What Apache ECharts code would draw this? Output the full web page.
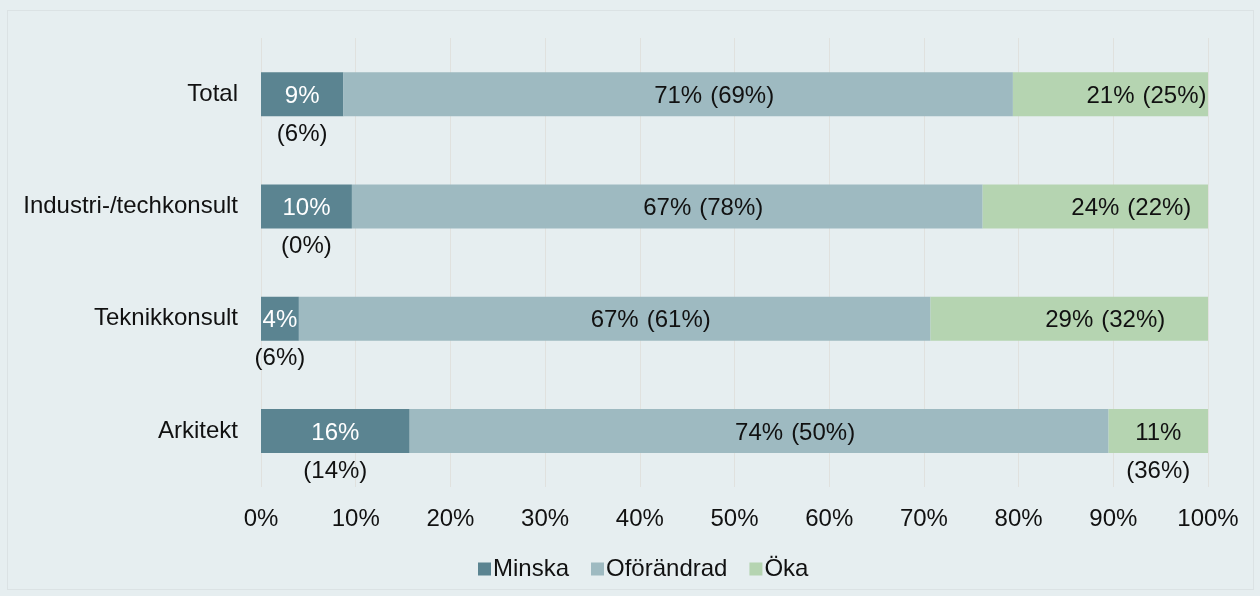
<!DOCTYPE html>
<html>
<head>
<meta charset="utf-8">
<script src="https://cdn.jsdelivr.net/npm/echarts@6/dist/echarts.min.js"></script>
<style>
  html, body { margin: 0; padding: 0; background: #e6eef0; }
  #frame { position: absolute; left: 7px; top: 10px; width: 1245px; height: 578px; border: 1px solid #dbe2e4; }
  #chart { position: absolute; left: 0; top: 0; width: 1260px; height: 596px; }
</style>
</head>
<body>
<div id="frame"></div>
<div id="chart"></div>
<script>
// kategorier (uppifrån och ned)
const categories = ['Total', 'Industri-/techkonsult', 'Teknikkonsult', 'Arkitekt']
const seriesNames = ['Minska', 'Oförändrad', 'Öka']

// andelar i år (%)
const minska = [8.7, 9.6, 4.0, 15.7]
const oforandrad = [70.7, 66.6, 66.7, 73.8]
const oka = [20.6, 23.8, 29.3, 10.5]

// förra årets siffror, visas inom parentes
const prevMinska = [6, 0, 6, 14]
const prevOforandrad = [69, 78, 61, 50]
const prevOka = [25, 22, 32, 36]

const xTicks = [0, 10, 20, 30, 40, 50, 60, 70, 80, 90, 100]

// var parentesen hamnar: under stapeln eller till höger om etiketten
const prevPlace = [
  ['below', 'below', 'below', 'below'],
  ['right', 'right', 'right', 'right'],
  ['right', 'right', 'right', 'below']
]

const colors = ['#5b8491', '#9ebac1', '#b5d4b1']
const values = [minska, oforandrad, oka]
const prevs = [prevMinska, prevOforandrad, prevOka]
const FONT = "'Liberation Sans', Arial, sans-serif"
const FS = 24

const chart = echarts.init(document.getElementById('chart'))

function makeSeries(si) {
  const data = values[si].map((v, i) => {
    const place = prevPlace[si][i]
    return {
      value: v,
      label: { offset: place === 'below' ? [0, 28] : [36, 2] }
    }
  })
  const mainColor = si === 0 ? '#ffffff' : '#111111'
  return {
    name: seriesNames[si],
    type: 'bar',
    stack: 'total',
    barWidth: 44,
    itemStyle: { color: colors[si] },
    label: {
      show: true,
      position: 'inside',
      fontFamily: FONT,
      formatter: (p) => {
        const main = Math.round(p.value) + '%'
        const prev = '(' + prevs[si][p.dataIndex] + '%)'
        if (prevPlace[si][p.dataIndex] === 'below') {
          return '{v|' + main + '}\n{p|' + prev + '}'
        }
        return '{v|' + main + '}{q|' + prev + '}'
      },
      rich: {
        v: { fontSize: FS, fontFamily: FONT, color: mainColor, lineHeight: 24 },
        p: { fontSize: FS, fontFamily: FONT, color: '#111111', lineHeight: 52 },
        q: { fontSize: FS, fontFamily: FONT, color: '#111111', lineHeight: 24, padding: [0, 0, 0, 8] }
      }
    },
    data: data
  }
}

const option = {
  animation: false,
  backgroundColor: 'transparent',
  grid: { left: 261, right: 52, top: 38, bottom: 109 },
  legend: {
    data: seriesNames,
    left: 473,
    top: 552,
    icon: 'rect',
    itemWidth: 13,
    itemHeight: 13,
    itemGap: 22,
    textStyle: { fontSize: FS, fontFamily: FONT, color: '#111111', padding: [0, 0, 0, -3] }
  },
  xAxis: {
    type: 'value',
    min: xTicks[0],
    max: xTicks[xTicks.length - 1],
    interval: xTicks[1] - xTicks[0],
    axisLine: { show: false },
    axisTick: { show: false },
    splitLine: { show: true, lineStyle: { color: '#e0e1de', width: 1 } },
    axisLabel: { formatter: '{value}%', fontSize: FS, fontFamily: FONT, color: '#111111', margin: 20 }
  },
  yAxis: {
    type: 'category',
    inverse: true,
    data: categories,
    axisLine: { show: false },
    axisTick: { show: false },
    axisLabel: { fontSize: FS, fontFamily: FONT, color: '#111111', margin: 23, padding: [3, 0, 0, 0] }
  },
  series: [makeSeries(0), makeSeries(1), makeSeries(2)]
}

chart.setOption(option)
</script>
</body>
</html>
